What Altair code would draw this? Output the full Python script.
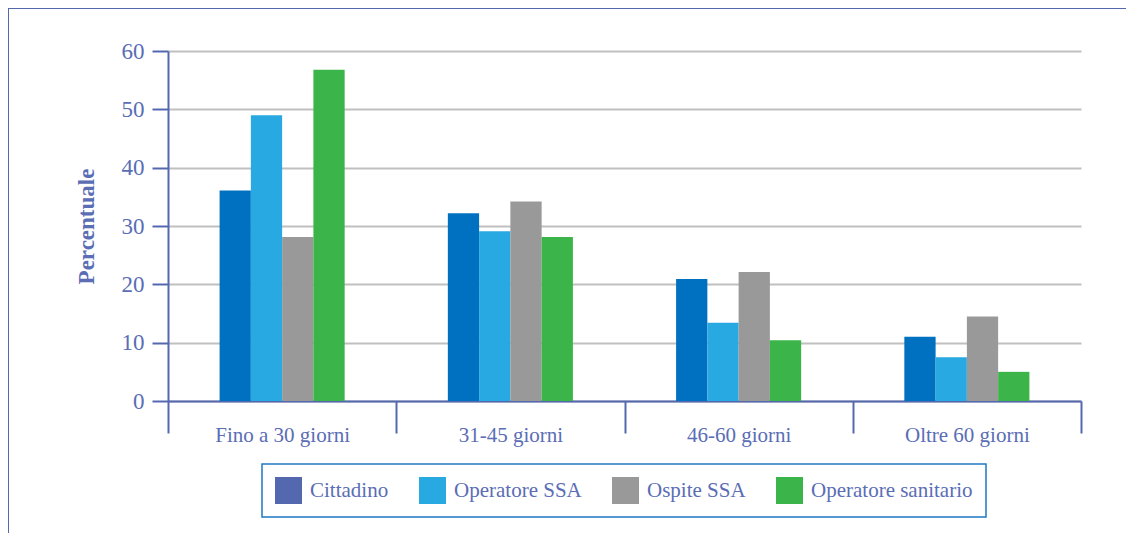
import altair as alt
import pandas as pd

categorie = ["Fino a 30 giorni", "31-45 giorni", "46-60 giorni", "Oltre 60 giorni"]
serie = ["Cittadino", "Operatore SSA", "Ospite SSA", "Operatore sanitario"]
cittadino = [36.1, 32.2, 20.9, 11.0]
operatore_ssa = [49.0, 29.1, 13.4, 7.5]
ospite_ssa = [28.1, 34.2, 22.1, 14.5]
operatore_sanitario = [56.8, 28.1, 10.4, 5.0]
y_ticks = [0, 10, 20, 30, 40, 50, 60]

bar_colors = ["#0070c0", "#29a9e1", "#999999", "#3bb54a"]
legend_colors = ["#5468b0", "#29a9e1", "#999999", "#3bb54a"]

valori = [cittadino, operatore_ssa, ospite_ssa, operatore_sanitario]
rows = []
for s, vals in zip(serie, valori):
    for c, v in zip(categorie, vals):
        rows.append({"categoria": c, "serie": s, "valore": v})
df = pd.DataFrame(rows)

BLUE = "#5468b0"
TXT = "#5a6db5"
FONT = "Liberation Serif"

x_enc = alt.X(
    "categoria:N",
    sort=categorie,
    scale=alt.Scale(paddingInner=0, paddingOuter=0),
    axis=alt.Axis(
        title=None,
        tickBand="extent",
        tickSize=32,
        tickWidth=2,
        tickColor=BLUE,
        domainColor=BLUE,
        domainWidth=2,
        labelFont=FONT,
        labelFontSize=21,
        labelColor=TXT,
        labelPadding=-9,
        labelAngle=0,
        grid=False,
    ),
)
y_enc = alt.Y(
    "valore:Q",
    scale=alt.Scale(domain=[0, 60], nice=False),
    axis=alt.Axis(
        values=y_ticks,
        title="Percentuale",
        titleFont=FONT,
        titleFontSize=23,
        titleFontWeight="bold",
        titleColor=TXT,
        titleX=-82,
        titleY=175,
        titleAngle=-90,
        titleAlign="center",
        titleBaseline="middle",
        tickSize=16,
        tickWidth=2,
        tickColor=BLUE,
        domainColor=BLUE,
        domainWidth=2,
        labelFont=FONT,
        labelFontSize=23,
        labelColor=TXT,
        labelPadding=8,
        grid=True,
        gridColor="#c0c0c0",
        gridWidth=2,
    ),
)
# empty slots at both ends of the offset scale keep each group narrower than its band
offset_domain = [" "] + serie + ["  "]
xoff = alt.XOffset(
    "serie:N",
    scale=alt.Scale(domain=offset_domain, paddingInner=0, paddingOuter=0.65),
)

bars = alt.Chart(df).mark_bar().encode(
    x=x_enc,
    y=y_enc,
    xOffset=xoff,
    fill=alt.Fill(
        "serie:N", sort=serie, scale=alt.Scale(domain=serie, range=bar_colors), legend=None
    ),
)

legend_layer = alt.Chart(df).mark_bar(opacity=0).encode(
    x=alt.X("categoria:N", sort=categorie),
    y=alt.Y("valore:Q"),
    xOffset=alt.XOffset("serie:N"),
    color=alt.Color(
        "serie:N",
        sort=serie,
        scale=alt.Scale(domain=serie, range=legend_colors),
        legend=alt.Legend(
            title=None,
            orient="none",
            legendX=94,
            legendY=413,
            direction="horizontal",
            columns=4,
            columnPadding=30,
            labelOffset=8,
            symbolType="square",
            symbolSize=729,
            symbolStrokeWidth=0,
            symbolOpacity=1,
            labelFont=FONT,
            labelFontSize=21,
            labelColor=TXT,
            labelLimit=400,
            padding=13,
        ),
    ),
)

frame_df = pd.DataFrame({"k": [0]})
frame_top = alt.Chart(frame_df).mark_rule(color=BLUE, strokeWidth=2).encode(
    x=alt.value(-160), x2=alt.value(960), y=alt.value(-43)
)
frame_left = alt.Chart(frame_df).mark_rule(color=BLUE, strokeWidth=2).encode(
    x=alt.value(-160), y=alt.value(-43), y2=alt.value(490)
)

chart = (
    alt.layer(bars, legend_layer, frame_top, frame_left)
    .resolve_scale(color="independent")
    .properties(
        width=913,
        height=350,
        padding={"left": 160, "top": 43, "right": 45, "bottom": 132},
        autosize=alt.AutoSizeParams(type="none"),
        background="white",
    )
    .configure_view(stroke=None)
    .configure_legend(strokeWidth=1.5, strokeColor="#1f78c4")
)

chart.save("out.html", embed_options={"renderer": "svg", "actions": False})
